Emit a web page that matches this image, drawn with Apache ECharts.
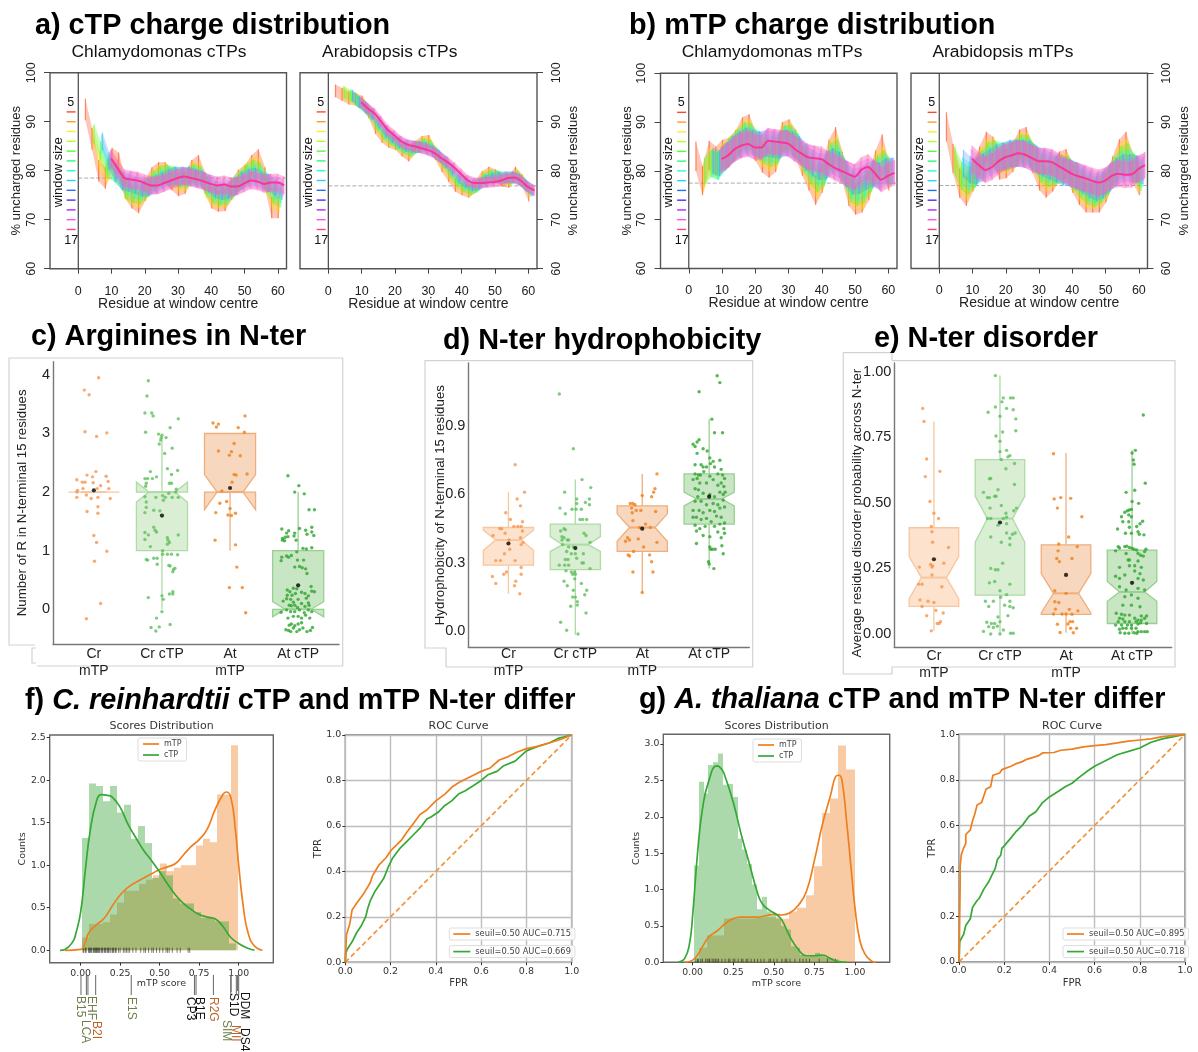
<!DOCTYPE html>
<html><head><meta charset="utf-8">
<style>html,body{margin:0;padding:0;background:#fff}#c{width:1198px;height:1052px}</style>
<script src="https://cdn.jsdelivr.net/npm/echarts@6/dist/echarts.min.js"></script>
</head><body><div id="c"></div>
<script>
const _=null;
/* ---------- a, b: charge distribution, window means at odd residues ---------- */
const residues=[3,5,7,9,11,13,15,17,19,21,23,25,27,29,31,33,35,37,39,41,43,45,47,49,51,53,55,57,59,61];
const windowSizes=[5,7,9,11,13,15,17];
const crCtpWindows=[
[92.5,86.5,80,78.5,82.5,81.5,76.5,74.5,73.5,76,78.5,79.5,79.5,78.2,77,77.5,80,81,77.5,74.5,73.8,74,76.2,78,79,81,82.2,78.5,72.5,72.5],
[_,87,82,79.5,81,79.5,76,74.8,74.5,76.2,78.2,79.2,79.3,78.6,77.8,78,79.8,79.6,76.5,74.6,74.4,74.6,76.4,78,79.4,80.8,80.6,77.5,74.2,73.5],
[_,87.5,84,80.5,79.8,78.5,76,75.4,75.2,76.5,78,79,79.2,78.8,78.4,78.5,79.4,79,76.8,75.2,74.8,75,76.6,78,79.4,80.3,79.6,77.4,75.2,74.5],
[_,_,85.5,81.5,79.5,78,76.8,76.2,76,76.6,77.6,78.4,79,79,78.8,78.8,79,78.5,77,75.8,75.2,75.6,76.8,78,79,79.5,78.8,77.6,76,75.2],
[_,_,86,82,79.5,77.8,77.5,77,76.5,76.6,77.3,78,78.6,79,79,79,78.6,78.2,77.3,76.2,75.8,76,76.8,78,78.6,78.8,78,77.5,76.5,75.8],
[_,_,_,82.5,80,78,78,77.8,77,76.8,77,77.5,78.2,78.8,79,78.8,78.3,78,77.5,76.8,76.5,76.4,76.8,77.6,78.2,78.2,77.6,77.5,77,76.5],
[_,_,_,82.5,80.5,78.5,78.2,78,77.5,77,77,77.5,78,78.5,78.8,78.5,78.2,77.8,77.3,77,77.2,76.8,76.8,77.4,78,77.8,77.3,77.6,77.6,77]];
const atCtpWindows=[
[96.3,95.6,94.8,94.6,94,92,88.8,87,86,85.5,84.2,83.2,84.8,85.8,86,83.5,81,79,77,76.3,75.8,76.8,78.6,79.5,79,78,77.8,79.5,78,75],
[_,96,95,94.5,93.6,91.8,89,87.2,86.2,85.5,84.4,83.6,84.8,85.8,85.6,83.4,81.2,79.2,77.5,76.6,76,76.8,78.6,79.2,78.8,78.2,78.2,79,77.8,75.8],
[_,96,95.3,94.3,93.2,91.6,89.2,87.4,86.4,85.5,84.6,84,84.8,85.4,85,83.4,81.6,79.6,77.8,76.8,76.2,76.8,78.4,79,78.8,78.4,78.4,78.8,77.5,76],
[_,_,95.3,94,93,91.5,89.5,87.7,86.6,85.6,84.8,84.4,84.8,85,84.4,83.2,81.8,80,78.2,77.2,76.6,77,78.2,78.8,78.8,78.6,78.6,78.4,77.2,76],
[_,_,95.3,94,92.8,91.6,89.8,88,86.8,85.8,85,84.8,84.8,84.6,84,83,81.8,80.2,78.6,77.6,77,77.2,77.9,78.4,78.6,78.7,78.7,78.2,77,76],
[_,_,_,94,92.8,91.6,90,88.2,87,86,85.2,85,84.8,84.3,83.8,82.8,81.8,80.4,79,77.9,77.4,77.4,77.7,78,78.3,78.6,78.7,78,76.9,76],
[_,_,_,94,92.7,91.7,90,88.3,87.2,86,85.3,85,84.6,84.2,83.6,82.6,81.7,80.6,79.3,78,77.5,77.5,77.6,77.7,78,78.5,78.6,77.9,76.7,76]];
const crMtpWindows=[
[83,78,83.2,82,83.4,83.8,85.4,88,88.6,85,82.6,81.6,82.8,87,87.6,85.5,82,79,76,78.5,83.4,86,81,75.8,74,74.5,77,81.2,84.5,79],
[_,78.5,82,81.5,83,84.2,85.6,87.6,87.8,85,83.4,82.6,83.4,86.8,87.2,85.2,82.2,79.4,77,79,83.4,84.6,80.4,76,74.8,75,77.6,81,82.4,79.4],
[_,80,81.5,81,82.8,84.4,85.8,87.2,87,85.2,84.2,83.6,84.2,86.6,86.6,85,82.4,80,78.4,79.6,83,83.6,80,76.4,75.6,76.2,78.4,80.4,81.4,79.6],
[_,_,81.5,81,82.8,84.4,85.6,86.8,86.4,85.4,84.8,84.4,84.8,86.4,86,84.8,82.6,81,79.6,80.2,82.6,82.4,79.6,77,76.6,77.4,79,79.8,80.6,79.8],
[_,_,82,81.6,83,84.4,85.4,86.2,85.8,85.4,85.6,85.4,85.2,85.8,85.4,84.4,82.8,81.6,80.8,81,82,81.2,79.4,77.8,78,78.8,79.4,79,80,80],
[_,_,_,82.2,83.2,84.5,85.3,85.8,85.2,85.2,86,85.8,85.6,85.6,84.8,84,83,82.4,81.8,81.4,81.2,80.4,79.4,78.6,79.2,79.8,79.6,78.6,79.6,80],
[_,_,_,82.4,83.2,84.5,85.2,85.5,84.8,84.8,86.2,86,85.8,85.6,84.5,83.6,82.8,82.6,82.4,81.5,80.6,80,79.4,78.8,80.2,80.8,79.6,78.2,79,79.6]];
const atMtpWindows=[
[89,82.5,77.5,75.8,78.8,82,85,84,81.2,81.5,82.8,85.5,86,82.5,79,77.5,78.8,81,81.5,78.5,76,74.5,74.5,74.5,76.5,80,83.5,85,80.5,78],
[_,82.5,78,76.8,79,81.8,83.8,83.8,82.2,82.4,83.2,85,85,82.6,79.8,78.6,79.4,80.6,80.6,78.6,76.6,75.2,75,75.6,77.2,80,83,83.8,80.6,78.2],
[_,82,79,78,79.4,81.4,83,83.4,82.8,83,83.6,84.6,84.4,82.6,80.4,79.6,80,80.4,80.2,78.8,77.2,76,75.4,76.2,77.8,80,82.2,82.8,80.6,78.8],
[_,_,80,79,79.6,81.2,82.4,83,83,83.4,83.6,84,83.8,82.4,81,80.4,80.2,80,79.8,79,77.8,76.6,76,76.8,78.2,80,81.4,81.6,80.4,79.4],
[_,_,81.5,80.2,80,80.8,81.8,82.6,83,83.6,83.6,83.6,83.4,82.4,81.6,81,80.4,79.8,79.6,79,78.2,77.2,76.6,77.2,78.6,79.8,80.6,80.6,80.4,80],
[_,_,_,81.8,80.6,80.4,81.2,82.2,82.9,83.4,83.6,83.3,82.8,82.2,82,81.6,80.8,80,79.4,79,78.4,77.8,77.2,77.8,79,79.6,79.8,79.8,80.4,80.8],
[_,_,_,82.5,81.2,80.2,80.8,82,82.8,83.2,83.6,83.3,82.6,82,82,81.8,81,80.2,79.4,78.9,78.5,78,77.6,78,79,79.4,79.2,79.3,80.4,81.2]];
const crCtpErr=[2.2,2.1,2,1.9,1.8,1.8,1.8], atCtpErr=[1.3,1.3,1.2,1.2,1.2,1.1,1.1], crMtpErr=[3,2.9,2.8,2.8,2.7,2.7,2.6], atMtpErr=[3,2.9,2.9,2.8,2.8,2.7,2.7];
const baselines=[78.5,76.9,77.5,77];
const legendValues=[92,90,88,86,84,82,80,78,76,74,72,70,68];
const xTickValues=[0,10,20,30,40,50,60];
const yTickValues=[60,70,80,90,100];

/* ---------- c, d, e: box statistics [low, q1, notchLow, median, notchHigh, q3, high] ---------- */
const boxLabels=['Cr\nmTP','Cr cTP','At\nmTP','At cTP'];
const argStats=[[2,2,2,2,2,2,2],[0,1,1.83,2,2.17,2,2.95],[1,2,1.7,2,2.3,3,3],[0,0,-0.13,0,0.13,1,2]];
const argMeans=[2.03,1.6,2.07,0.41];
const hydStats=[[.165,.29,.355,.4,.443,.455,.61],[-.015,.27,.35,.38,.415,.47,.665],[.17,.35,.395,.455,.515,.55,.69],[.275,.47,.55,.58,.61,.69,.93]];
const hydMeans=[.385,.365,.45,.59];
const disStats=[[.012,.105,.135,.215,.295,.405,.81],[0,.148,.35,.44,.525,.665,.985],[.005,.075,.08,.155,.23,.34,.69],[0,.04,.125,.16,.2,.32,.7]];
const disMeans=[.285,.425,.225,.195];
/* jitter points: [offset from category, value] */
const argCrM=[[.07,3.95],[-.14,3.74],[-.07,3.66],[-.13,3.03],[.04,2.95],[.19,3.01],[.03,2.35],[-.1,2.29],[-.25,2.21],[.18,2.27],[-.17,2.17],[-.13,2.17],[-.02,2.26],[-.01,2.16],[.21,2.18],[.1,2.11],[.22,2.06],[-.24,2.03],[-.25,2],[-.16,2.06],[.05,2.06],[-.11,1.95],[-.25,1.91],[-.04,1.89],[.06,1.91],[.24,1.89],[.06,1.75],[-.1,1.67],[.06,1.64],[0,1.26],[.04,1.14],[.19,.99],[.01,.82],[.1,.1],[-.11,-.16]];
const argCrC=[[-.2,3.9],[-.22,3.64],[-.25,3.35],[-.15,3.35],[-.13,3.3],[.24,3.25],[.12,3.1],[-.24,3.02],[-.05,2.99],[0,2.97],[-.01,2.93],[.06,2.93],[-.02,2.89],[-.04,2.82],[.15,2.75],[.04,2.66],[-.17,2.35],[.08,2.4],[.23,2.37],[-.08,2.26],[.14,2.3],[-.25,2.23],[-.21,2.23],[-.14,2.23],[.11,2.15],[.14,2.15],[-.23,2.15],[-.24,2.1],[.21,2.05],[.2,2],[.1,1.98],[.01,1.94],[.02,1.86],[.05,1.91],[.15,1.91],[.24,1.91],[-.09,1.91],[-.25,1.92],[-.23,1.83],[-.23,1.74],[-.25,1.65],[-.12,1.69],[-.03,1.68],[-.25,1.31],[-.12,1.4],[-.1,1.35],[-.08,1.32],[-.25,1.19],[-.2,1.27],[.08,1.22],[.09,1.18],[.11,1.14],[.08,1.11],[.24,1.27],[-.17,1.07],[.01,1],[-.23,.85],[-.21,.84],[-.12,.87],[-.07,.87],[-.07,.77],[.01,.94],[.08,.94],[.14,.94],[.23,.93],[.12,.74],[.1,.75],[.19,.7],[.17,.68],[.16,.64],[.16,.3],[.11,.26],[.16,.26],[0,.23],[-.2,.2],[.02,.17],[0,-.04],[-.08,-.15],[-.16,-.31],[-.04,-.3],[-.09,-.37],[.12,-.26]];
const argAtM=[[-.17,3.16],[-.25,3.18],[-.2,3.11],[.12,3.1],[.22,3.3],[.21,3.02],[-.17,2.7],[.06,2.83],[-.01,2.63],[.02,2.69],[.15,2.62],[.25,2.31],[.06,2.3],[.09,2.29],[.03,2.17],[-.12,2.02],[-.15,1.81],[-.05,1.84],[0,1.72],[-.21,1.65],[-.03,1.61],[.02,1.6],[.08,1.64],[-.22,1.18],[.08,1.1],[.1,.72],[-.01,.37],[.18,.37],[.23,-.06]];
const argAtC=[[-.15,2.28],[.01,2.11],[-.05,2],[.09,1.97],[.16,1.7],[.24,1.7],[-.24,1.37],[-.14,1.34],[-.17,1.3],[-.23,1.21],[-.19,1.23],[-.15,1.24],[-.23,1.18],[-.2,1.17],[.02,1.38],[-.05,1.3],[-.06,1.25],[.2,1.4],[.2,1.32],[.13,1.28],[.11,1.35],[.23,1.26],[-.03,1.18],[.07,1.04],[.12,1.03],[.2,1.05],[-.02,.98],[-.24,.89],[-.25,.83],[-.17,.91],[-.14,.89],[-.1,.92],[-.01,.84],[.08,.84],[-.05,.72],[.02,.73],[.06,.71],[.11,.69],[.13,.61],[.19,.39],[-.16,.33],[-.07,.36],[-.02,.35],[-.12,.3],[-.16,.24],[-.17,.18],[-.09,.24],[-.04,.27],[.05,.29],[.1,.27],[.15,.23],[.2,.31],[.24,.3],[-.22,.14],[-.11,.17],[-.07,.12],[0,.17],[.12,.19],[.15,.11],[-.13,.07],[-.1,.06],[-.05,.07],[-.01,.03],[.05,.1],[.1,.05],[.16,.07],[-.25,-.05],[-.17,-.01],[-.11,-.04],[-.05,-.04],[.02,-.01],[.09,-.06],[.15,-.01],[.2,-.04],[-.15,-.15],[-.07,-.12],[0,-.12],[.05,-.15],[.11,-.1],[.17,-.15],[-.13,-.27],[-.1,-.25],[-.05,-.28],[0,-.25],[.05,-.23],[-.07,-.32],[-.18,-.35],[-.14,-.36],[-.11,-.38],[.02,-.35],[.13,-.38],[.18,-.36],[.21,-.31],[.07,-.32],[-.02,-.38]];
const hydCrM=[[.1,.73],[.24,.61],[-.04,.52],[.13,.58],[.18,.55],[.03,.49],[.21,.48],[.14,.46],[.19,.46],[-.1,.45],[-.05,.43],[.08,.46],[.21,.44],[-.13,.45],[-.23,.42],[.18,.41],[.01,.4],[.22,.39],[.19,.38],[.02,.36],[-.06,.34],[.1,.31],[-.19,.31],[-.12,.31],[.19,.28],[-.24,.24],[-.07,.25],[-.03,.26],[.19,.25],[-.19,.21],[.11,.22],[.09,.2],[.17,.165]];
const hydCrC=[[-.24,1.04],[-.03,.8],[.1,.665],[.23,.63],[-.16,.61],[.21,.58],[.02,.58],[.21,.555],[.02,.56],[.15,.565],[-.23,.54],[-.15,.515],[-.05,.535],[.01,.535],[.09,.535],[.11,.49],[.07,.49],[.17,.49],[-.17,.45],[-.22,.44],[-.15,.445],[.13,.43],[.16,.42],[-.2,.415],[-.2,.4],[-.17,.41],[-.12,.4],[-.1,.4],[.22,.39],[-.03,.37],[-.19,.38],[-.1,.37],[-.13,.35],[0,.34],[.12,.34],[-.06,.34],[-.15,.315],[-.11,.315],[.02,.32],[.1,.3],[.12,.3],[-.24,.29],[-.16,.29],[-.1,.29],[.22,.275],[-.14,.265],[-.06,.26],[-.01,.26],[0,.25],[-.04,.25],[-.01,.23],[-.17,.22],[.09,.21],[-.12,.2],[-.03,.18],[.17,.18],[.14,.16],[-.04,.15],[0,.15],[.03,.13],[-.07,.11],[.03,.115],[.16,.08],[-.22,.04],[-.13,.005],[.04,-.012]];
const hydAtM=[[.22,.69],[0,.595],[.19,.625],[.17,.61],[.14,.59],[-.18,.56],[-.14,.56],[-.11,.555],[-.16,.54],[-.09,.53],[-.02,.53],[.2,.525],[-.15,.52],[-.14,.485],[-.04,.455],[.05,.47],[.12,.455],[-.22,.41],[-.25,.395],[-.19,.4],[-.06,.405],[.22,.39],[.02,.37],[-.13,.35],[.11,.335],[-.21,.335],[-.19,.33],[.14,.305],[-.14,.26],[.16,.26],[0,.17]];
const hydAtC=[[.12,1.12],[.16,1.09],[-.15,1.05],[.04,.93],[.08,.87],[.2,.87],[-.15,.84],[-.18,.83],[-.24,.82],[-.21,.81],[-.09,.8],[-.03,.79],[-.18,.78],[.01,.76],[-.21,.73],[-.12,.73],[-.09,.72],[-.04,.72],[.02,.735],[.06,.745],[.16,.75],[.08,.72],[-.08,.7],[.18,.71],[.13,.69],[-.21,.69],[-.16,.685],[-.13,.685],[.01,.68],[.2,.685],[-.24,.665],[-.18,.67],[.23,.67],[.06,.665],[-.04,.65],[-.14,.65],[.18,.65],[.13,.64],[-.21,.625],[.22,.635],[-.16,.62],[.24,.61],[.16,.61],[-.09,.605],[.01,.6],[.08,.59],[-.17,.59],[.21,.6],[-.21,.57],[-.12,.57],[-.04,.555],[.06,.56],[.13,.555],[.21,.575],[-.24,.53],[-.15,.53],[.01,.53],[.08,.525],[.16,.54],[.23,.545],[-.09,.52],[-.19,.5],[.11,.505],[.18,.5],[-.24,.5],[-.12,.49],[-.04,.495],[.03,.48],[.23,.475],[-.21,.465],[.16,.47],[-.06,.46],[.08,.46],[-.14,.45],[.22,.45],[-.19,.44],[.13,.435],[.23,.43],[-.09,.42],[.01,.415],[.18,.41],[-.19,.385],[.01,.37],[.05,.36],[.02,.36],[.09,.36],[.19,.375],[.21,.34],[-.01,.305],[0,.295],[.07,.275]];
const disCrM=[[-.17,.86],[-.15,.81],[-.11,.667],[.09,.62],[-.13,.6],[-.06,.505],[0,.46],[.07,.44],[-.04,.41],[-.03,.39],[-.02,.35],[.22,.33],[.15,.27],[-.05,.265],[-.02,.26],[-.22,.255],[-.03,.255],[-.03,.225],[-.23,.19],[-.18,.19],[.12,.18],[-.21,.13],[-.09,.125],[0,.12],[-.18,.105],[.03,.09],[-.11,.07],[.14,.08],[.05,.04],[.08,.04],[.1,.047],[-.04,.012]];
const disCrC=[[-.07,.985],[.05,.9],[.16,.9],[.2,.9],[.03,.885],[-.07,.865],[-.18,.845],[.1,.86],[.2,.855],[0,.83],[.24,.82],[.24,.775],[.04,.77],[-.06,.755],[0,.735],[.1,.7],[0,.695],[.15,.68],[.12,.675],[.02,.665],[.22,.65],[.09,.63],[-.14,.593],[-.16,.592],[.22,.57],[-.25,.54],[-.03,.55],[-.08,.525],[-.19,.52],[-.16,.52],[-.06,.525],[.02,.49],[-.15,.48],[.25,.48],[.21,.47],[.09,.46],[.05,.44],[-.19,.44],[-.14,.44],[.1,.445],[-.03,.415],[.1,.42],[.23,.385],[.19,.38],[.1,.385],[-.14,.37],[.15,.365],[.02,.35],[.15,.34],[.04,.27],[-.14,.25],[-.07,.245],[-.03,.245],[-.08,.2],[-.16,.195],[.15,.19],[0,.165],[.1,.15],[.01,.14],[-.22,.125],[-.1,.125],[.15,.125],[-.17,.105],[.07,.11],[.2,.1],[.15,.105],[-.03,.065],[.12,.07],[-.2,.045],[0,.047],[-.13,.04],[-.08,.04],[-.17,.028],[-.1,.025],[-.04,.03],[.05,.015],[-.25,.01],[-.14,0],[0,0],[.16,.003],[.2,.003]];
const disAtM=[[-.19,.687],[-.18,.515],[-.08,.52],[.07,.517],[-.13,.48],[.24,.447],[.04,.37],[-.11,.343],[.17,.333],[-.12,.317],[-.14,.288],[.09,.288],[-.1,.276],[-.17,.165],[0,.155],[-.17,.123],[-.11,.12],[-.16,.095],[.05,.094],[.18,.088],[-.19,.076],[-.06,.076],[0,.076],[.09,.075],[-.13,.037],[.03,.038],[.06,.047],[.1,.047],[.07,.022],[.16,.022],[-.09,.006],[.11,.005]];
const disAtC=[[.17,.835],[.05,.7],[0,.69],[.02,.663],[.03,.647],[.2,.575],[.04,.548],[-.09,.54],[.1,.498],[0,.505],[-.04,.473],[-.07,.47],[-.11,.464],[-.01,.475],[-.16,.447],[-.05,.454],[-.01,.447],[-.14,.428],[-.05,.428],[.16,.43],[.12,.42],[.07,.41],[-.22,.4],[-.04,.407],[-.1,.384],[-.01,.384],[.09,.39],[.11,.38],[.18,.378],[-.21,.333],[-.19,.328],[-.11,.333],[-.08,.335],[-.04,.33],[0,.327],[.03,.323],[.07,.32],[.21,.323],[-.25,.317],[.19,.314],[-.09,.307],[.09,.307],[.13,.3],[.17,.297],[-.06,.282],[-.04,.282],[.09,.278],[-.19,.254],[-.04,.26],[.04,.26],[.14,.254],[.04,.24],[-.25,.22],[-.11,.225],[.12,.23],[-.19,.212],[.09,.212],[.17,.206],[-.19,.18],[-.09,.168],[.09,.174],[.19,.168],[-.01,.149],[-.11,.142],[.09,.136],[-.14,.11],[-.01,.11],[.12,.104],[-.24,.079],[-.16,.075],[-.11,.072],[-.04,.072],[.14,.069],[.22,.069],[-.19,.06],[-.14,.057],[.04,.06],[.09,.053],[.14,.053],[.19,.06],[-.21,.047],[-.11,.047],[-.04,.047],[.06,.047],[.13,.043],[.22,.04],[-.25,.034],[-.16,.034],[-.07,.034],[-.01,.034],[.09,.038],[-.14,.022],[-.19,.018],[-.09,.022],[-.01,.022],[.06,.022],[.14,.009],[.19,.009],[.23,.009],[-.18,.005],[-.11,.003],[-.05,.003],[.03,.005],[.07,.003],[.09,.009]];

/* ---------- f, g: histograms, density curves, rugs ---------- */
const fHistC=[1.32,1.96,1.93,1.75,1.93,1.62,1.71,1.31,1.46,1.26,.85,.93,.88,.61,.55,.55,.45,.38,.38,.34,.34,.08];
const fHistM=[.15,.31,.31,.33,.42,.56,.7,.7,.78,.83,.88,1.02,.93,.97,1,1,1.23,1.31,1.27,1.83,1.83,2.41];
const gHistC=[1.33,2.48,2.32,2.71,2.75,2.87,2.44,2.45,2.27,1.7,1.55,1.35,1.07,.73,.9,.7,.65,.6,.5,.45,.22,.2,.1,.08,.1,.13,.1,.07,.05,.04];
const gHistM=[.2,.37,.37,.6,.6,.6,.6,.62,.62,.62,.6,.7,.75,.92,1.32,2.05,2.25,2.98,2.65];
const histBins={fC:[.0065,.0443],fM:[.0065,.0451],gC:[.008,.0298],gM:[.04,.0504]};
const fKdeM=[[-.1,0],[0,.01],[.03,.1],[.05,.2],[.1,.3],[.15,.38],[.2,.52],[.25,.65],[.3,.74],[.35,.8],[.4,.85],[.45,.9],[.5,.95],[.55,.98],[.6,1.02],[.65,1.12],[.7,1.22],[.75,1.3],[.8,1.42],[.85,1.65],[.9,1.83],[.92,1.86],[.95,1.8],[.98,1.4],[1,1],[1.03,.5],[1.06,.2],[1.1,.05],[1.15,0]];
const fKdeC=[[-.13,0],[-.1,.01],[-.05,.1],[-.03,.2],[0,.45],[.03,.95],[.06,1.4],[.1,1.75],[.13,1.83],[.17,1.82],[.2,1.8],[.25,1.68],[.3,1.48],[.35,1.32],[.4,1.17],[.45,1.05],[.5,.92],[.55,.78],[.6,.65],[.65,.55],[.7,.48],[.75,.42],[.8,.39],[.85,.37],[.9,.28],[.95,.15],[1,.08],[1.05,.03],[1.1,0]];
const gKdeM=[[-.05,0],[0,.03],[.03,.1],[.07,.25],[.1,.35],[.15,.43],[.2,.53],[.25,.6],[.3,.62],[.35,.62],[.4,.62],[.45,.64],[.5,.66],[.55,.65],[.6,.68],[.65,.78],[.7,.97],[.75,1.4],[.8,1.9],[.85,2.3],[.88,2.55],[.9,2.57],[.92,2.5],[.95,1.9],[.98,1.2],[1,.75],[1.03,.3],[1.06,.12],[1.1,.02],[1.13,0]];
const gKdeC=[[-.09,0],[-.05,.05],[-.02,.25],[0,.65],[.03,1.5],[.06,2.1],[.1,2.5],[.15,2.7],[.18,2.65],[.2,2.55],[.25,2.2],[.3,1.75],[.35,1.35],[.4,.95],[.43,.8],[.47,.72],[.52,.65],[.55,.58],[.6,.35],[.65,.18],[.7,.09],[.75,.09],[.8,.1],[.85,.05],[.9,.01],[.95,0]];
const fRug=[.015,.02,.03,.035,.05,.055,.06,.065,.07,.08,.085,.09,.095,.1,.105,.11,.115,.12,.13,.135,.14,.15,.155,.16,.17,.175,.18,.19,.2,.205,.21,.22,.225,.24,.25,.27,.28,.29,.3,.31,.33,.35,.38,.4,.41,.43,.45,.46,.48,.5,.52,.54,.55,.56,.58,.61,.63,.68,.69];
const gRug=[.02,.03,.035,.05,.06,.08,.09,.1,.105,.12,.13,.14,.15,.16,.18,.2,.22,.23,.25,.26,.28,.3,.31,.33,.34,.36,.38,.4,.42,.44,.47,.48,.5,.52,.55,.57,.58,.6,.63,.66,.68,.7,.72,.78,.83,.88];
const geneNames=['B15','LCA','EHF','B2I','E1S','CP3','B1E','R2G','SIM','S1D','MII','DDM','DS4'];
const geneScores=[.002,.036,.046,.095,.32,.72,.73,.84,.95,.952,.985,.993,1];
const geneKinds=['cp','cp','cp','mt','cp','n','n','mt','cp','n','mt','n','n'];

/* ---------- f, g: ROC ---------- */
const fRocM=[[0,0],[.005,.12],[.02,.17],[.03,.23],[.05,.26],[.08,.3],[.11,.35],[.12,.38],[.15,.43],[.18,.46],[.2,.49],[.23,.52],[.25,.54],[.27,.57],[.3,.61],[.33,.65],[.36,.67],[.38,.69],[.4,.71],[.44,.74],[.47,.77],[.5,.79],[.53,.805],[.57,.825],[.6,.84],[.64,.855],[.68,.89],[.72,.905],[.76,.925],[.8,.94],[.85,.95],[.9,.965],[.95,.98],[1,1]];
const fRocC=[[0,0],[.002,.04],[.01,.06],[.03,.09],[.05,.13],[.07,.16],[.09,.2],[.1,.24],[.11,.27],[.13,.31],[.15,.34],[.17,.37],[.19,.42],[.21,.46],[.24,.5],[.27,.53],[.3,.56],[.33,.59],[.36,.63],[.38,.64],[.41,.66],[.44,.69],[.47,.71],[.5,.74],[.53,.755],[.57,.78],[.6,.8],[.63,.825],[.67,.84],[.7,.865],[.75,.885],[.8,.93],[.85,.95],[.9,.965],[.94,.985],[1,1]];
const gRocM=[[0,0],[.005,.34],[.005,.42],[.01,.47],[.02,.5],[.03,.52],[.03,.56],[.05,.58],[.06,.62],[.07,.65],[.08,.69],[.1,.7],[.11,.73],[.12,.76],[.14,.77],[.15,.82],[.18,.83],[.19,.845],[.23,.86],[.25,.87],[.28,.88],[.3,.89],[.35,.905],[.37,.918],[.42,.92],[.45,.93],[.5,.935],[.55,.945],[.6,.95],[.65,.955],[.7,.962],[.75,.97],[.8,.975],[.85,.98],[.9,.99],[1,1]];
const gRocC=[[0,0],[.003,.09],[.02,.12],[.03,.16],[.05,.19],[.06,.24],[.08,.27],[.09,.28],[.11,.32],[.13,.35],[.15,.39],[.16,.41],[.17,.45],[.185,.47],[.19,.5],[.2,.51],[.23,.545],[.25,.57],[.28,.6],[.31,.64],[.34,.66],[.37,.7],[.4,.725],[.44,.75],[.47,.77],[.5,.785],[.53,.81],[.57,.84],[.6,.86],[.65,.885],[.7,.91],[.75,.925],[.8,.94],[.85,.965],[.9,.98],[.95,.99],[1,1]];
const rocDiagonal=[[0,0],[1,1]];
const rocNames=['seuil=0.50 AUC=0.715','seuil=0.50 AUC=0.669','seuil=0.50 AUC=0.895','seuil=0.50 AUC=0.718'];

/* ---------- styling ---------- */
const SANS='"Liberation Sans",Arial,sans-serif', MPL='"DejaVu Sans",sans-serif';
const rainbow13=['#FF2A00','#FF8A00','#FFE800','#A8FF00','#30FF10','#00FF60','#00FFC8','#00C8FF','#0050FF','#3000FF','#A000FF','#FF30EB','#FF2080'];
const windowColors=['#FF4A18','#FFE000','#48FF28','#18FFD8','#4090FF','#C878FF','#FF60B8'];
const windowFillOpacity=[.32,.32,.32,.3,.26,.3,.42], windowBarOpacity=[.6,.5,.5,.5,.45,.42,.42];
const ORANGE='#EE7F1E', GREEN='#35A835';
const boxFill=['#FDE3CD','#D9EED3','#F7D8BE','#C8E6C3'], boxStroke=['#F8C69F','#AEDBA6','#F0AE7C','#98D091'], dotColor=['#F8954F','#5EBF5E','#EF7F1A','#2DA52D'];

const grid=[],xAxis=[],yAxis=[],series=[],graphic=[],legend=[];
function txt(x,y,text,o={}){graphic.push({type:'text',x,y,rotation:o.rot||0,silent:true,z:50,style:Object.assign({text,align:o.align||'center',verticalAlign:'middle',fontFamily:o.family||SANS,fontSize:o.size||14,fontWeight:o.weight||'normal',fill:o.fill||'#111'},o.extra||{})});}
function frame(pts){graphic.push({type:'polyline',silent:true,z:0,shape:{points:pts},style:{stroke:'#D2D2D2',lineWidth:1.2,fill:null}});}
function addGrid(l,t,w,h,border){const i=grid.length;grid.push({left:l,top:t,width:w,height:h,show:!!border,borderColor:border||'#555',borderWidth:border?1.4:0,containLabel:false});return i;}

/* R-style window panels */
function windowPanel(box,rows,errs,base,right,title,titleX){
  const g=addGrid(box[0],box[1],box[2],box[3],'#555');
  xAxis.push({gridIndex:g,type:'value',min:-8.5,max:62.6,axisLine:{show:false,onZero:false},splitLine:{show:false},
    axisTick:{length:5,customValues:xTickValues,lineStyle:{color:'#444'}},
    axisLabel:{customValues:xTickValues,fontSize:12.5,color:'#222',margin:16,fontFamily:SANS},
    name:'Residue at window centre',nameLocation:'middle',nameGap:28,nameMoveOverlap:false,nameTextStyle:{fontSize:14,color:'#222',fontFamily:SANS,padding:[0,0,0,20]}});
  yAxis.push({gridIndex:g,type:'value',min:60,max:100,position:right?'right':'left',axisLine:{show:false,onZero:false},splitLine:{show:false},
    axisTick:{length:6,customValues:yTickValues,lineStyle:{color:'#444'}},
    axisLabel:{customValues:yTickValues,rotate:90,fontSize:12.5,color:'#222',margin:right?13:12,fontFamily:SANS},
    name:'% uncharged residues',nameLocation:'middle',nameRotate:90,nameGap:right?30:27,nameMoveOverlap:false,nameTextStyle:{fontSize:13,color:'#222',fontFamily:SANS}});
  series.push({type:'line',xAxisIndex:g,yAxisIndex:g,data:[[0,base],[62.6,base]],symbol:'none',silent:true,z:1,lineStyle:{color:'#AAA',type:'dashed',width:1}});
  series.push({type:'line',xAxisIndex:g,yAxisIndex:g,data:[[0,60],[0,100]],symbol:'none',silent:true,z:1,lineStyle:{color:'#444',width:1.2}});
  series.push({type:'custom',xAxisIndex:g,yAxisIndex:g,silent:true,z:2,data:legendValues.map((v,i)=>[-3.5,v,i]),encode:{x:0,y:1},
    renderItem:(p,api)=>{const a=api.coord([api.value(0),api.value(1)]),b=api.coord([-.8,api.value(1)]);
      return{type:'line',shape:{x1:a[0],y1:a[1],x2:b[0],y2:b[1]},style:{stroke:rainbow13[api.value(2)],lineWidth:1.4,opacity:.85}};}});
  rows.forEach((row,k)=>{
    const col=windowColors[k],shift=(k-3)*.286,pts=[];
    row.forEach((v,i)=>{if(v!==null)pts.push([residues[i]+shift,v-errs[k],v+errs[k]]);});
    /* soft envelope of this window's error bars, then the bars */
    series.push({type:'custom',xAxisIndex:g,yAxisIndex:g,silent:true,z:3+k,clip:true,data:pts,encode:{x:0,y:[1,2]},
      renderItem:(p,api)=>{
        const a=api.coord([api.value(0),api.value(1)]),b=api.coord([api.value(0),api.value(2)]);
        const bar={type:'line',shape:{x1:a[0],y1:a[1],x2:b[0],y2:b[1]},style:{stroke:col,lineWidth:1.2,opacity:windowBarOpacity[k]}};
        if(p.dataIndex!==0)return bar;
        const top=pts.map(d=>api.coord([d[0],d[2]])),low=pts.map(d=>api.coord([d[0],d[1]])).reverse();
        return{type:'group',children:[{type:'polygon',shape:{points:top.concat(low)},style:{fill:col,opacity:windowFillOpacity[k]}},bar]};}});
    if(k===6)series.push({type:'line',xAxisIndex:g,yAxisIndex:g,silent:true,z:10,symbol:'none',smooth:.3,data:row.map((v,i)=>v===null?null:[residues[i]+shift,v]).filter(Boolean),
      lineStyle:{color:'#FF2F92',width:2,opacity:.95}});
  });
  const x0=box[0],midY=box[1]+box[3]/2;
  txt(x0+20.8,102.5,'5',{size:12.5});txt(x0+21.2,241,'17',{size:12.5});
  txt(x0+8.4,midY+1.5,'window size',{rot:Math.PI/2,size:13});
  txt(titleX,52,title,{size:17.4});
}
windowPanel([50,72.7,236.5,196],crCtpWindows,crCtpErr,baselines[0],false,'Chlamydomonas cTPs',159);
windowPanel([300,72.7,237,196],atCtpWindows,atCtpErr,baselines[1],true,'Arabidopsis cTPs',389.7);
windowPanel([660.5,73.3,236.5,195.2],crMtpWindows,crMtpErr,baselines[2],false,'Chlamydomonas mTPs',772);
windowPanel([911,73.3,236.5,195.2],atMtpWindows,atMtpErr,baselines[3],true,'Arabidopsis mTPs',1003);

/* notched box panels */
function boxPanel(box,ymin,ymax,ticks,fmt,name,gap,pad,lblMargin,stats,means,jit){
  const g=addGrid(box[0],box[1],box[2],box[3],null);
  xAxis.push({gridIndex:g,type:'value',min:.4,max:4.6,splitLine:{show:false},axisLine:{onZero:false,lineStyle:{color:'#777',width:1.4}},axisTick:{show:false,customValues:[1,2,3,4]},
    axisLabel:{customValues:[1,2,3,4],formatter:v=>boxLabels[v-1],fontSize:14,color:'#222',margin:lblMargin,lineHeight:16.5,fontFamily:SANS,hideOverlap:false,showMinLabel:true,showMaxLabel:true}});
  yAxis.push({gridIndex:g,type:'value',min:ymin,max:ymax,splitLine:{show:false},axisLine:{onZero:false,lineStyle:{color:'#777',width:1.4}},axisTick:{show:false,customValues:ticks},
    axisLabel:{customValues:ticks,formatter:fmt,fontSize:14.5,color:'#222',margin:3,fontFamily:SANS},
    name,nameLocation:'middle',nameGap:gap,nameMoveOverlap:false,nameTextStyle:{fontSize:13.3,color:'#222',fontFamily:SANS,padding:pad}});
  series.push({type:'custom',xAxisIndex:g,yAxisIndex:g,silent:true,z:2,clip:false,data:stats.map((s,i)=>[i+1,...s,i]),encode:{x:0,y:[1,7]},
    renderItem:(p,api)=>{const c=api.value(0),i=api.value(8),W=.375,N=.19,P=(x,y)=>api.coord([x,y]);
      const lo=api.value(1),q1=api.value(2),nl=api.value(3),m=api.value(4),nh=api.value(5),q3=api.value(6),hi=api.value(7),st=boxStroke[i];
      const points=[P(c-W,q1),P(c-W,nl),P(c-N,m),P(c-W,nh),P(c-W,q3),P(c+W,q3),P(c+W,nh),P(c+N,m),P(c+W,nl),P(c+W,q1)];
      const seg=(a,b,w)=>({type:'line',shape:{x1:a[0],y1:a[1],x2:b[0],y2:b[1]},style:{stroke:st,lineWidth:w}});
      return{type:'group',children:[
        {type:'polygon',shape:{points},style:{fill:boxFill[i],stroke:st,lineWidth:1.3}},
        seg(P(c,q3),P(c,hi),1.3),seg(P(c,q1),P(c,lo),1.3),seg(P(c-N,m),P(c+N,m),2)]};}});
  jit.forEach((arr,i)=>series.push({type:'scatter',xAxisIndex:g,yAxisIndex:g,silent:true,z:3,symbolSize:3.4,clip:false,data:arr.map(d=>[i+1+d[0],d[1]]),itemStyle:{color:dotColor[i]}}));
  series.push({type:'scatter',xAxisIndex:g,yAxisIndex:g,silent:true,z:4,symbolSize:4.2,clip:false,data:means.map((v,i)=>[i+1,v]),itemStyle:{color:'#000'}});
}
boxPanel([53,361.7,286,282.3],-.592,4.225,[0,1,2,3,4],v=>String(v),'Number of R in N-terminal 15 residues',24,[0,0,0,0],2,argStats,argMeans,[argCrM,argCrC,argAtM,argAtC]);
boxPanel([468.3,363,281,284.3],-.07,1.176,[0,.3,.6,.9],v=>v.toFixed(1),'Hydrophobicity of N-terminal 15 residues',21,[0,0,0,0],-1,hydStats,hydMeans,[hydCrM,hydCrC,hydAtM,hydAtC]);
boxPanel([894.3,363,277.4,284.3],-.0507,1.033,[0,.25,.5,.75,1],v=>v.toFixed(2),'Average residue disorder probability across N-ter',30,[0,16,0,0],1,disStats,disMeans,[disCrM,disCrC,disAtM,disAtC]);

/* cropped-figure frames */
frame([[35,645],[9,645],[9,358],[342.7,358],[342.7,666],[37,666]]);frame([[36,648],[32,648],[32,663],[36,663]]);
frame([[446,667],[752.7,667],[752.7,360.7],[425,360.7],[425,648],[446,648],[446,667]]);
frame([[892,360.7],[1175,360.7],[1175,667],[892,667],[892,674],[843.3,674],[843.3,352.7],[892,352.7],[892,360.7]]);

/* score distributions */
function histSeries(g,heights,bin,fill){
  series.push({type:'custom',xAxisIndex:g,yAxisIndex:g,silent:true,z:2,data:heights.map((h,i)=>[bin[0]+i*bin[1],bin[0]+(i+1)*bin[1],h]),encode:{x:[0,1],y:2},
    renderItem:(p,api)=>{const a=api.coord([api.value(0),api.value(2)]),b=api.coord([api.value(1),0]),x0=Math.round(a[0]),x1=Math.round(b[0]);
      return{type:'rect',shape:{x:x0,y:a[1],width:x1-x0,height:b[1]-a[1]},style:{fill}};}});
}
function distPanel(box,xr,yr,yTicks,rug,rugR,hm,hc,bm,bc,km,kc,legendPos,titleX,nameGap,yGap){
  const g=addGrid(box[0],box[1],box[2],box[3],'#666'),xt=[0,.25,.5,.75,1];
  const lbl={fontSize:9.3,color:'#333',fontFamily:MPL};
  xAxis.push({gridIndex:g,type:'value',min:xr[0],max:xr[1],splitLine:{show:false},axisLine:{show:false,onZero:false},axisTick:{length:3,customValues:xt,lineStyle:{color:'#333'}},
    axisLabel:Object.assign({customValues:xt,formatter:v=>v.toFixed(2),margin:6},lbl),name:'mTP score',nameLocation:'middle',nameGap,nameMoveOverlap:false,nameTextStyle:{fontSize:9.5,color:'#333',fontFamily:MPL}});
  yAxis.push({gridIndex:g,type:'value',min:yr[0],max:yr[1],splitLine:{show:false},axisLine:{show:false,onZero:false},axisTick:{length:3,customValues:yTicks,lineStyle:{color:'#333'}},
    axisLabel:Object.assign({customValues:yTicks,formatter:v=>v.toFixed(1),margin:4},lbl),name:'Counts',nameLocation:'middle',nameGap:yGap,nameMoveOverlap:false,nameTextStyle:{fontSize:9.5,color:'#333',fontFamily:MPL}});
  histSeries(g,hm,bm,'rgba(240,130,40,.42)');histSeries(g,hc,bc,'rgba(44,160,44,.4)');
  series.push({type:'custom',xAxisIndex:g,yAxisIndex:g,silent:true,z:3,data:rug.map(v=>[v,rugR[0],rugR[1]]),encode:{x:0,y:[1,2]},
    renderItem:(p,api)=>{const a=api.coord([api.value(0),api.value(1)]),b=api.coord([api.value(0),api.value(2)]);
      return{type:'line',shape:{x1:a[0],y1:a[1],x2:b[0],y2:b[1]},style:{stroke:'#000',lineWidth:1,opacity:.5}};}});
  series.push({name:'mTP',type:'line',xAxisIndex:g,yAxisIndex:g,silent:true,z:4,symbol:'none',smooth:.5,data:km,lineStyle:{color:ORANGE,width:1.7},itemStyle:{color:ORANGE}});
  series.push({name:'cTP',type:'line',xAxisIndex:g,yAxisIndex:g,silent:true,z:4,symbol:'none',smooth:.5,data:kc,lineStyle:{color:GREEN,width:1.7},itemStyle:{color:GREEN}});
  legend.push({data:['mTP','cTP'],orient:'vertical',left:legendPos[0],top:legendPos[1],selectedMode:false,backgroundColor:'rgba(255,255,255,.8)',borderColor:'#DDD',borderWidth:1,borderRadius:2,padding:[2,5],itemGap:3,icon:'rect',itemWidth:16,itemHeight:1.7,textStyle:{fontSize:8,color:'#444',fontFamily:MPL}});
  txt(titleX,726,'Scores Distribution',{size:11,family:MPL,fill:'#333'});
  return g;
}
const gF=distPanel([49.7,735,223.6,227.7],[-.196,1.219],[-.146,2.53],[0,.5,1,1.5,2,2.5],fRug,[-.03,.03],fHistM,fHistC,histBins.fM,histBins.fC,fKdeM,fKdeC,[138,738],161.5,16,22);
distPanel([663.3,734.3,226.4,228],[-.181,1.214],[0,3.133],[0,.5,1,1.5,2,2.5,3],gRug,[0,.05],gHistM,gHistC,histBins.gM,histBins.gC,gKdeM,gKdeC,[753,739],776.5,16,22);

/* candidate markers under panel f */
const geneColor={cp:'#6F7F4A',mt:'#B8662E',n:'#111'};
const geneLabelDx=[-1,-1.3,3.3,1,0,-4.3,3.7,0,-4,2.7,-1,7,5.7];
const geneLabelY=[996,1020,996,1021,997,997,997,997,1020,993,1025,992,1028];
series.push({type:'custom',xAxisIndex:gF,yAxisIndex:gF,silent:true,z:5,clip:false,data:geneScores.map((v,i)=>[v,i]),encode:{x:0},
  renderItem:(p,api)=>{const i=api.value(1),x=api.coord([api.value(0),0])[0],c=geneColor[geneKinds[i]];
    return{type:'group',children:[
      {type:'line',shape:{x1:x,y1:975,x2:x,y2:Math.min(geneLabelY[i]-1,995)},style:{stroke:'#666',lineWidth:1}},
      {type:'text',x:x+geneLabelDx[i],y:geneLabelY[i],rotation:-Math.PI/2,style:{text:geneNames[i],align:'left',verticalAlign:'middle',fontFamily:SANS,fontSize:12,fill:c}}]};}});

/* ROC panels */
function rocPanel(box,m,c,nm,nc,titleX){
  const g=addGrid(box[0],box[1],box[2],box[3],'#777');
  const lbl={fontSize:9.5,color:'#333',fontFamily:MPL,margin:4,formatter:v=>v.toFixed(1)};
  const spl={show:true,lineStyle:{color:'#BDBDBD',width:1.4}};
  const ax=n=>({gridIndex:g,type:'value',min:0,max:1,interval:.2,splitLine:spl,axisLine:{show:false,onZero:false},axisTick:{length:3,lineStyle:{color:'#333'}},axisLabel:lbl,name:n,nameLocation:'middle',nameGap:n==='FPR'?16:22,nameMoveOverlap:false,nameTextStyle:{fontSize:10,color:'#333',fontFamily:MPL}});
  xAxis.push(ax('FPR'));yAxis.push(ax('TPR'));
  series.push({type:'line',xAxisIndex:g,yAxisIndex:g,silent:true,z:3,symbol:'none',data:rocDiagonal,lineStyle:{color:'#F0953C',type:[5,3],width:1.7}});
  series.push({name:nc,type:'line',xAxisIndex:g,yAxisIndex:g,silent:true,z:4,symbol:'none',data:c,lineStyle:{color:GREEN,width:1.7},itemStyle:{color:GREEN}});
  series.push({name:nm,type:'line',xAxisIndex:g,yAxisIndex:g,silent:true,z:4,symbol:'none',data:m,lineStyle:{color:ORANGE,width:1.7},itemStyle:{color:ORANGE}});
  [[nm,928],[nc,945.6]].forEach(d=>legend.push({data:[d[0]],left:box[0]+104,top:d[1],selectedMode:false,backgroundColor:'rgba(255,255,255,.85)',borderColor:'#DDD',borderWidth:1,borderRadius:2,padding:[2,4],icon:'rect',itemWidth:17,itemHeight:1.7,textStyle:{fontSize:8.3,color:'#444',fontFamily:MPL}}));
  txt(titleX,726,'ROC Curve',{size:11,family:MPL,fill:'#333'});
}
rocPanel([345.3,735,226.4,227.3],fRocM,fRocC,rocNames[0],rocNames[1],458.5);
rocPanel([959,734.3,226,227.7],gRocM,gRocC,rocNames[2],rocNames[3],1072);

/* panel titles */
const H={size:28.8,weight:'bold',fill:'#000',align:'left'};
txt(35,26,'a) cTP charge distribution',H);txt(629,26,'b) mTP charge distribution',H);
txt(31,337,'c) Arginines in N-ter',H);txt(443,341,'d) N-ter hydrophobicity',H);txt(874,339,'e) N-ter disorder',H);
const rich={b:{fontSize:28.8,fontWeight:'bold',fontFamily:SANS,fill:'#000'},i:{fontSize:28.8,fontWeight:'bold',fontStyle:'italic',fontFamily:SANS,fill:'#000'}};
txt(25,701,'{b|f) }{i|C. reinhardtii}{b| cTP and mTP N-ter differ}',{align:'left',extra:{rich}});
txt(639,700,'{b|g) }{i|A. thaliana}{b| cTP and mTP N-ter differ}',{align:'left',extra:{rich}});

const chart=echarts.init(document.getElementById('c'),null,{renderer:'canvas',width:1198,height:1052});
chart.setOption({animation:false,backgroundColor:'#fff',textStyle:{fontFamily:SANS},tooltip:{show:false},grid,xAxis,yAxis,series,legend,graphic});
</script></body></html>
